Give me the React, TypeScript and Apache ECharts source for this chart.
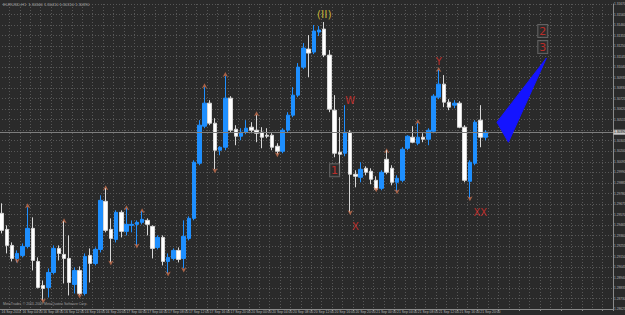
import React, { useEffect, useRef } from "react";
import * as echarts from "echarts";

const SYMBOL = "EURUSD,H1";
const TOTAL_SLOTS = 118;

// [open, close, low, high]
const CANDLES: number[][] = [
  [1.2958, 1.2941, 1.2938, 1.2968],
  [1.2942, 1.2926, 1.2918, 1.2946],
  [1.2926, 1.2913, 1.2910, 1.2929],
  [1.2913, 1.2918, 1.2909, 1.2921],
  [1.2916, 1.2925, 1.2914, 1.2928],
  [1.2925, 1.2943, 1.2923, 1.2964],
  [1.2943, 1.2911, 1.2901, 1.2954],
  [1.2910, 1.2884, 1.2883, 1.2914],
  [1.2886, 1.2883, 1.2871, 1.2891],
  [1.2884, 1.2899, 1.2874, 1.2903],
  [1.2899, 1.2923, 1.2897, 1.2926],
  [1.2923, 1.2918, 1.2911, 1.2926],
  [1.2917, 1.2913, 1.2888, 1.2950],
  [1.2913, 1.2889, 1.2876, 1.2936],
  [1.2887, 1.2901, 1.2878, 1.2904],
  [1.2901, 1.2878, 1.2876, 1.2905],
  [1.2878, 1.2915, 1.2876, 1.2918],
  [1.2916, 1.2908, 1.2889, 1.2923],
  [1.2908, 1.2922, 1.2906, 1.2924],
  [1.2922, 1.2971, 1.2919, 1.2976],
  [1.2970, 1.2941, 1.2939, 1.2983],
  [1.2942, 1.2933, 1.2909, 1.2953],
  [1.2932, 1.2959, 1.2929, 1.2961],
  [1.2959, 1.2940, 1.2934, 1.2961],
  [1.2940, 1.2947, 1.2936, 1.2963],
  [1.2946, 1.2947, 1.2939, 1.2951],
  [1.2947, 1.2949, 1.2926, 1.2951],
  [1.2949, 1.2952, 1.2947, 1.2960],
  [1.2951, 1.2947, 1.2936, 1.2953],
  [1.2945, 1.2923, 1.2913, 1.2946],
  [1.2924, 1.2934, 1.2922, 1.2936],
  [1.2934, 1.2910, 1.2906, 1.2936],
  [1.2910, 1.2914, 1.2898, 1.2918],
  [1.2913, 1.2921, 1.2911, 1.2923],
  [1.2921, 1.2912, 1.2909, 1.2924],
  [1.2913, 1.2935, 1.2903, 1.2951],
  [1.2933, 1.2953, 1.2931, 1.2955],
  [1.2953, 1.3009, 1.2951, 1.3011],
  [1.3008, 1.3046, 1.3006, 1.3051],
  [1.3045, 1.3068, 1.3043, 1.3084],
  [1.3068, 1.3048, 1.3046, 1.3071],
  [1.3048, 1.3021, 1.3002, 1.3053],
  [1.3021, 1.3024, 1.3016, 1.3025],
  [1.3024, 1.3073, 1.3021, 1.3095],
  [1.3073, 1.3041, 1.3039, 1.3075],
  [1.3042, 1.3035, 1.3026, 1.3046],
  [1.3035, 1.3039, 1.3031, 1.3043],
  [1.3039, 1.3043, 1.3037, 1.3051],
  [1.3044, 1.3041, 1.3038, 1.3049],
  [1.3041, 1.3038, 1.3029, 1.3056],
  [1.3039, 1.3034, 1.3023, 1.3044],
  [1.3036, 1.3035, 1.3033, 1.3043],
  [1.3036, 1.3024, 1.3021, 1.3038],
  [1.3025, 1.3020, 1.3017, 1.3028],
  [1.3020, 1.3041, 1.3018, 1.3043],
  [1.3041, 1.3056, 1.3039, 1.3059],
  [1.3056, 1.3076, 1.3054, 1.3084],
  [1.3076, 1.3104, 1.3074, 1.3108],
  [1.3104, 1.3123, 1.3102, 1.3128],
  [1.3122, 1.3118, 1.3094, 1.3136],
  [1.3119, 1.3140, 1.3117, 1.3146],
  [1.3139, 1.3141, 1.3135, 1.3145],
  [1.3142, 1.3116, 1.3114, 1.3149],
  [1.3116, 1.3062, 1.3059, 1.3121],
  [1.3061, 1.3018, 1.3014, 1.3076],
  [1.3019, 1.3017, 1.2996, 1.3054],
  [1.3018, 1.3039, 1.3015, 1.3066],
  [1.3039, 1.2997, 1.2959, 1.3041],
  [1.2997, 1.2995, 1.2984, 1.3001],
  [1.2994, 1.3002, 1.2989, 1.3009],
  [1.3003, 1.2999, 1.2996, 1.3005],
  [1.3000, 1.2992, 1.2987, 1.3003],
  [1.2991, 1.2982, 1.2981, 1.2995],
  [1.2983, 1.2999, 1.2981, 1.3001],
  [1.3012, 1.2999, 1.2997, 1.3021],
  [1.3003, 1.2989, 1.2986, 1.3006],
  [1.2989, 1.2993, 1.2980, 1.2996],
  [1.2991, 1.3022, 1.2989, 1.3024],
  [1.3023, 1.3035, 1.3021, 1.3036],
  [1.3034, 1.3029, 1.3028, 1.3045],
  [1.3028, 1.3034, 1.3026, 1.3048],
  [1.3034, 1.3032, 1.3029, 1.3038],
  [1.3032, 1.3041, 1.3026, 1.3043],
  [1.3040, 1.3075, 1.3038, 1.3077],
  [1.3074, 1.3087, 1.3072, 1.3101],
  [1.3087, 1.3069, 1.3064, 1.3096],
  [1.3069, 1.3064, 1.3061, 1.3072],
  [1.3066, 1.3068, 1.3063, 1.3071],
  [1.3068, 1.3044, 1.3043, 1.3070],
  [1.3044, 1.2991, 1.2989, 1.3046],
  [1.2990, 1.3009, 1.2973, 1.3011],
  [1.3008, 1.3049, 1.3006, 1.3051],
  [1.3051, 1.3034, 1.3024, 1.3066],
  [1.3034, 1.3039, 1.3031, 1.3041],
];

const TIME_LABELS = [
  "16 Sep 2010", "16 Sep 04:00", "16 Sep 08:00", "16 Sep 12:00", "16 Sep 16:00", "16 Sep 20:00",
  "17 Sep 00:00", "17 Sep 04:00", "17 Sep 08:00", "17 Sep 12:00", "17 Sep 16:00", "17 Sep 20:00",
  "20 Sep 00:00", "20 Sep 04:00", "20 Sep 08:00", "20 Sep 12:00", "20 Sep 16:00", "20 Sep 20:00",
  "21 Sep 00:00", "21 Sep 04:00", "21 Sep 08:00", "21 Sep 12:00", "21 Sep 16:00", "21 Sep 20:00",
];

const FRACTAL_UP_IDX = [5, 12, 20, 24, 27, 39, 43, 49, 74, 80, 84];
const FRACTAL_UP_PRICE = [1.2968, 1.2953, 1.2986, 1.2966, 1.2963, 1.3088, 1.3099, 1.3060, 1.3023, 1.3052, 1.3104];
const FRACTAL_DN_IDX = [3, 8, 15, 21, 26, 32, 35, 41, 53, 67, 72, 76, 90];
const FRACTAL_DN_PRICE = [1.2908, 1.2868, 1.2873, 1.2906, 1.2923, 1.2895, 1.2899, 1.2998, 1.3014, 1.2956, 1.2979, 1.2977, 1.2970];

const WAVE_TEXT = ["(II)", "W", "X", "Y", "XX"];
const WAVE_IDX = [62, 67, 68, 84, 92];
const WAVE_PRICE = [1.3157, 1.3071, 1.2945, 1.3110, 1.2959];
const WAVE_COLOR = ["#e4d03a", "#e0302a", "#e0302a", "#e0302a", "#e0302a"];

const BOX_TEXT = ["1", "2", "3"];
const BOX_IDX = [64, 104, 104];
const BOX_PRICE = [1.3001, 1.3140, 1.3124];

const TRI_X = [95.2, 97.4, 104.7];
const TRI_PRICE = [1.3049, 1.3029, 1.3113];

const Y_MIN = 1.28625;
const Y_MAX = 1.3167;
const Y_STEP = 0.00105;

export default function App() {
  const ref = useRef<HTMLDivElement>(null);
  useEffect(() => {
    if (!ref.current) return;
    const chart = echarts.init(ref.current, null, { renderer: "svg" });
    const slots = [];
    for (let i = 0; i < TOTAL_SLOTS; i++) slots.push(String(i));
    const last = CANDLES[CANDLES.length - 1];
    const lastClose = last[1];
    const header = `${SYMBOL}  ${last[0].toFixed(5)} ${last[3].toFixed(5)} ${last[2].toFixed(5)} ${last[1].toFixed(5)}`;

    const option: any = {
      animation: false,
      backgroundColor: "#2a2a2a",
      grid: { left: -1, right: 12, top: 4, bottom: 6, containLabel: false, outerBoundsMode: "none" },
      xAxis: {
        type: "category",
        data: slots,
        boundaryGap: true,
        axisLine: { show: true, lineStyle: { color: "#8a8a8a", width: 1 } },
        axisTick: {
          show: true,
          length: 2,
          interval: (i: number) => i % 4 === 0,
          lineStyle: { color: "#8a8a8a" },
        },
        axisLabel: {
          show: true,
          interval: (i: number) => i % 4 === 0 && i / 4 < TIME_LABELS.length,
          formatter: (_v: string, i: number) => TIME_LABELS[i / 4] || "",
          fontSize: 3.4,
          color: "#b8b8b8",
          margin: 1.5,
          align: "left",
          fontFamily: "Liberation Sans",
        },
        splitLine: {
          show: true,
          interval: (i: number) => i % 2 === 0,
          lineStyle: { color: "#575757", type: [1, 2], width: 1 },
        },
      },
      yAxis: {
        type: "value",
        position: "right",
        min: Y_MIN,
        max: Y_MAX,
        interval: Y_STEP,
        axisLine: { show: true, lineStyle: { color: "#8a8a8a", width: 1 } },
        axisTick: { show: false },
        axisLabel: {
          fontSize: 3.2,
          color: "#b8b8b8",
          margin: 1,
          formatter: (v: number) => (Math.abs(v - lastClose) < Y_STEP * 0.6 ? "" : v.toFixed(5)),
          fontFamily: "Liberation Sans",
        },
        splitLine: { show: true, lineStyle: { color: "#575757", type: [1, 2], width: 1 } },
      },
      graphic: [
        {
          type: "text",
          left: 3,
          top: 2,
          style: { text: header, fill: "#a8a8a8", fontSize: 4, fontFamily: "Liberation Sans" },
          z: 100,
        },
        {
          type: "text",
          left: 3,
          top: 302,
          style: {
            text: "MetaTrader, © 2001-2009 MetaQuotes Software Corp.",
            fill: "#a0a0a0",
            fontSize: 3.5,
            fontFamily: "Liberation Sans",
          },
          z: 100,
        },
      ],
      series: [
        {
          type: "candlestick",
          data: CANDLES,
          barWidth: 4,
          itemStyle: {
            color: "#1e8fff",
            color0: "#ffffff",
            borderColor: "#1e8fff",
            borderColor0: "#d8d8d8",
            borderWidth: 1,
          },
          z: 3,
        },
        {
          type: "scatter",
          symbol: "arrow",
          symbolSize: [4, 5],
          itemStyle: { color: "#c8704f" },
          data: FRACTAL_UP_IDX.map((x, i) => [x, FRACTAL_UP_PRICE[i]]),
          markLine: {
            silent: true,
            symbol: "none",
            precision: 5,
            data: [{ yAxis: lastClose }],
            lineStyle: { color: "#7e7e7e", type: "solid", width: 1 },
            label: {
              show: true,
              position: "end",
              distance: 0.5,
              formatter: () => lastClose.toFixed(5),
              fontSize: 3.2,
              color: "#000",
              backgroundColor: "#c8c8c8",
              padding: [1, 0.5],
              fontFamily: "Liberation Sans",
            },
          },
          z: 2,
        },
        {
          type: "scatter",
          symbol: "arrow",
          symbolSize: [4, 5],
          symbolRotate: 180,
          itemStyle: { color: "#c8704f" },
          data: FRACTAL_DN_IDX.map((x, i) => [x, FRACTAL_DN_PRICE[i]]),
          z: 4,
        },
        {
          type: "custom",
          data: [[TRI_X[0], TRI_PRICE[0]]],
          renderItem: (_p: any, api: any) => {
            const bw = api.size([1, 0])[0];
            const pts = TRI_X.map((x, i) => {
              const base = Math.floor(x);
              const pt = api.coord([base, TRI_PRICE[i]]);
              return [pt[0] + (x - base) * bw, pt[1]];
            });
            return {
              type: "polygon",
              shape: { points: pts },
              style: { fill: "#1414ff", stroke: "#1414ff", lineWidth: 1 },
            };
          },
          z: 5,
        },
        {
          type: "scatter",
          symbolSize: 0,
          data: WAVE_TEXT.map((t, i) => ({
            value: [WAVE_IDX[i], WAVE_PRICE[i]],
            name: t,
            label: { color: WAVE_COLOR[i], fontSize: i === 0 ? 11 : 10 },
          })),
          label: {
            show: true,
            position: "inside",
            formatter: (p: any) => p.name,
            fontFamily: "DejaVu Sans",
          },
          z: 6,
        },
        {
          type: "scatter",
          symbolSize: 0,
          data: BOX_TEXT.map((t, i) => ({ value: [BOX_IDX[i], BOX_PRICE[i]], name: t })),
          label: {
            show: true,
            position: "inside",
            formatter: (p: any) => p.name,
            color: "#e0302a",
            fontSize: 11,
            fontFamily: "DejaVu Sans",
            backgroundColor: "#2a2a2a",
            borderColor: "#707070",
            borderWidth: 1,
            padding: [1, 1, 0, 1],
          },
          z: 6,
        },
      ],
    };
    chart.setOption(option);
    return () => chart.dispose();
  }, []);
  return (
    <div
      ref={ref}
      style={{ position: "fixed", left: 0, top: 0, width: 625, height: 315 }}
    />
  );
}
